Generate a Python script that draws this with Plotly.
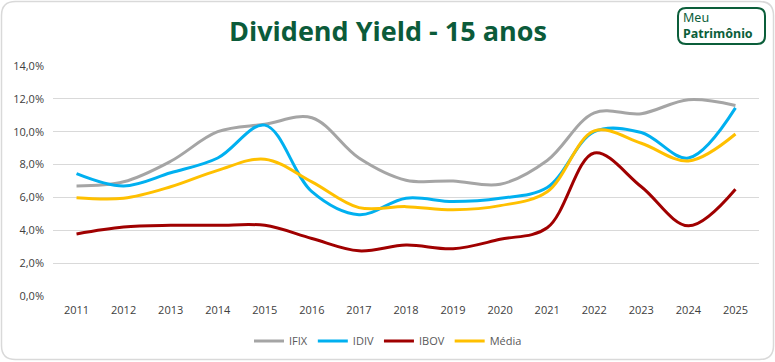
import plotly.graph_objects as go

years = [str(y) for y in range(2011, 2026)]
ifix = [6.7, 6.95, 8.2, 10.0, 10.45, 10.85, 8.4, 7.05, 7.0, 6.8, 8.25, 11.15, 11.1, 11.95, 11.6]
idiv = [7.45, 6.7, 7.5, 8.4, 10.4, 6.35, 4.95, 5.95, 5.75, 5.95, 6.6, 10.0, 9.95, 8.4, 11.45]
ibov = [3.78, 4.2, 4.3, 4.3, 4.3, 3.5, 2.75, 3.1, 2.88, 3.45, 4.15, 8.7, 6.65, 4.27, 6.5]
media = [5.98, 5.95, 6.65, 7.65, 8.33, 6.95, 5.38, 5.44, 5.25, 5.5, 6.35, 10.05, 9.3, 8.22, 9.86]
yticks = [0, 2, 4, 6, 8, 10, 12, 14]
ytick_labels = ["0,0%", "2,0%", "4,0%", "6,0%", "8,0%", "10,0%", "12,0%", "14,0%"]

series = [("IFIX", ifix, "#A5A5A5"), ("IDIV", idiv, "#00B0F0"),
          ("IBOV", ibov, "#A00000"), ("Média", media, "#FFC000")]

W, H = 775, 362
L, R, T, B = 53, 16, 66, 66
pw, ph = W - L - R, H - T - B

def px(x):
    return (x - L) / pw

def py(y):
    return (H - B - y) / ph

def rounded(x0, y0, x1, y1, r):
    X0, X1 = px(x0), px(x1)
    Y0, Y1 = py(y0), py(y1)
    rx, ry = r / pw, r / ph
    return (f"M {X0+rx},{Y0} L {X1-rx},{Y0} Q {X1},{Y0} {X1},{Y0-ry} "
            f"L {X1},{Y1+ry} Q {X1},{Y1} {X1-rx},{Y1} L {X0+rx},{Y1} "
            f"Q {X0},{Y1} {X0},{Y1+ry} L {X0},{Y0-ry} Q {X0},{Y0} {X0+rx},{Y0} Z")

fig = go.Figure()
for name, vals, color in series:
    fig.add_trace(go.Scatter(x=years, y=vals, name=name, mode="lines",
                             line=dict(color=color, width=3, shape="spline", smoothing=1.0)))

fig.update_layout(
    width=W, height=H,
    margin=dict(l=L, r=R, t=T, b=B, autoexpand=False),
    paper_bgcolor="white", plot_bgcolor="white",
    font=dict(family="Open Sans", size=11, color="#595959"),
    showlegend=True,
    legend=dict(orientation="h", x=px(388), xanchor="center", y=py(341), yanchor="middle",
                font=dict(size=11, color="#595959"), itemwidth=30, tracegroupgap=0),
    xaxis=dict(type="category", range=[-0.5, 14.5], showgrid=False, showline=False,
               automargin=False, ticks="", zeroline=False, ticklabelstandoff=6,
               tickfont=dict(size=11, color="#404040")),
    yaxis=dict(range=[0, 14], tickvals=yticks, ticktext=ytick_labels, showgrid=True,
               automargin=False, gridcolor="#D9D9D9", gridwidth=1, zeroline=False,
               showline=False, ticks="", ticklabelstandoff=8,
               tickfont=dict(size=11, color="#404040")),
    shapes=[
        dict(type="path", xref="paper", yref="paper", path=rounded(1.5, 1.5, 773.5, 359.5, 14),
             line=dict(color="#D9D9D9", width=1.5), fillcolor="rgba(0,0,0,0)", layer="below"),
        dict(type="path", xref="paper", yref="paper", path=rounded(678, 8, 765, 44, 8),
             line=dict(color="#0B5E3A", width=2), fillcolor="white"),
    ],
    annotations=[
        dict(text="<b>Dividend Yield - 15 anos</b>", xref="paper", yref="paper",
             x=px(388), y=py(30), xanchor="center", yanchor="middle", showarrow=False,
             font=dict(family="Open Sans", size=27, color="#0B5B3A")),
        dict(text="Meu<br><b>Patrimônio</b>", xref="paper", yref="paper",
             x=px(681), y=py(26), xanchor="left", yanchor="middle", align="left",
             showarrow=False,
             font=dict(family="Noto Sans", size=12.5, color="#0B5E3A")),
    ],
)

fig.write_html("out.html", config={"displayModeBar": False},
               post_script="document.body.style.margin='0px';")
